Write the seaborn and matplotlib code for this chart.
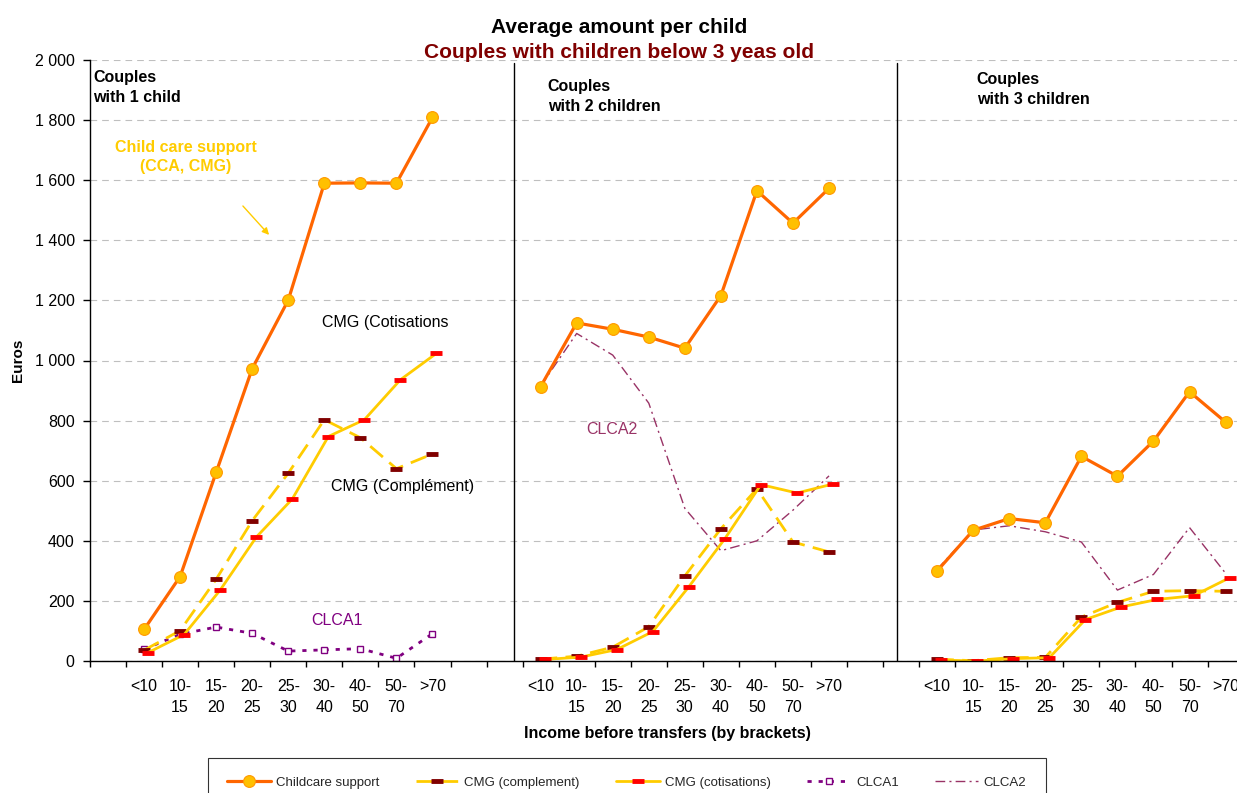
import numpy as np
import pandas as pd
import matplotlib
matplotlib.use("Agg")
import matplotlib.pyplot as plt
from matplotlib.lines import Line2D
from matplotlib.transforms import ScaledTranslation
from matplotlib.ticker import FuncFormatter
import seaborn as sns

# ---- data -------------------------------------------------------------
brackets = ["<10", "10-\n15", "15-\n20", "20-\n25", "25-\n30",
            "30-\n40", "40-\n50", "50-\n70", ">70"]
group_labels = ["Couples\nwith 1 child", "Couples\nwith 2 children",
                "Couples\nwith 3 children"]
# first category slot of each panel on the shared axis, and total slots
group_first_slot = [1, 12, 23]
n_slots = 32

childcare_1 = [105, 281, 628, 973, 1201, 1590, 1591, 1590, 1809]
childcare_2 = [913, 1125, 1104, 1078, 1041, 1216, 1565, 1457, 1573]
childcare_3 = [300, 435, 474, 460, 681, 615, 732, 896, 795]

cmg_complement_1 = [36, 101, 272, 467, 625, 803, 743, 640, 689]
cmg_complement_2 = [6, 16, 46, 114, 283, 440, 573, 396, 363]
cmg_complement_3 = [6, 1, 11, 12, 146, 195, 232, 234, 232]

cmg_cotisations_1 = [28, 88, 236, 412, 539, 747, 803, 936, 1024]
cmg_cotisations_2 = [5, 13, 38, 98, 247, 407, 587, 559, 589]
cmg_cotisations_3 = [3, 0, 8, 11, 138, 180, 205, 217, 277]

clca1_1 = [39, 89, 113, 92, 33, 37, 41, 9, 91]

clca2_2 = [915, 1090, 1018, 858, 508, 367, 400, 502, 616]
clca2_3 = [305, 436, 450, 430, 396, 236, 288, 444, 292]

series_values = {
    "Childcare support": {0: childcare_1, 1: childcare_2, 2: childcare_3},
    "CMG (complement)": {0: cmg_complement_1, 1: cmg_complement_2, 2: cmg_complement_3},
    "CMG (cotisations)": {0: cmg_cotisations_1, 1: cmg_cotisations_2, 2: cmg_cotisations_3},
    "CLCA1": {0: clca1_1},
    "CLCA2": {1: clca2_2, 2: clca2_3},
}

rows = []
for name, per_group in series_values.items():
    for g, vals in per_group.items():
        for k, v in enumerate(vals):
            rows.append({"series": name, "group": g,
                         "slot": group_first_slot[g] + k + 0.5, "value": v})
df = pd.DataFrame(rows)

# ---- styles -----------------------------------------------------------
GOLD = "#FFCC00"
styles = {
    "Childcare support": dict(color="#FF6600", lw=2.3, ls="-", marker="o", ms=8.5,
                              mfc="#FFC000", mec="#FF9900", mew=0.8),
    "CMG (complement)": dict(color=GOLD, lw=2.0, ls=(0, (6, 3)), marker="_", ms=9,
                             mew=3.5, mec="#800000"),
    "CMG (cotisations)": dict(color=GOLD, lw=2.0, ls="-", marker="_", ms=9,
                              mew=3.5, mec="#FF0000"),
    "CLCA1": dict(color="#800080", lw=2.0, ls=(0, (1.5, 2.5)), marker="s", ms=4,
                  mfc="white", mec="#800080", mew=1.0),
    "CLCA2": dict(color="#993366", lw=1.0, ls=(0, (7, 3, 1.5, 3))),
}

sns.set_theme(style="white")
plt.rcParams["font.family"] = ["Liberation Sans", "DejaVu Sans"]

W, H = 1237, 793
fig = plt.figure(figsize=(W / 100, H / 100), dpi=100)
ax = fig.add_axes([90 / W, 132 / H, 36.05 * n_slots / W, 601 / H])

draw_order = ["CLCA2", "CLCA1", "CMG (complement)", "CMG (cotisations)", "Childcare support"]
shift = ScaledTranslation(4 / 100, 0, fig.dpi_scale_trans)
for name in draw_order:
    sub = df[df["series"] == name]
    n_before = len(ax.lines)
    sns.lineplot(data=sub, x="slot", y="value", units="group", estimator=None,
                 sort=False, legend=False, ax=ax, **styles[name])
    if name == "CMG (cotisations)":
        for ln in ax.lines[n_before:]:
            ln.set_transform(ax.transData + shift)

# ---- axes -------------------------------------------------------------
ax.set_xlim(0, n_slots)
ax.set_ylim(0, 2000)
ax.set_xlabel("")
ax.set_ylabel("")
ax.set_yticks(np.arange(0, 2001, 200))
ax.yaxis.set_major_formatter(FuncFormatter(lambda v, p: f"{int(v):,}".replace(",", " ")))
ax.set_xticks(np.arange(0, n_slots + 1))
ax.set_xticklabels([])
centers, labels = [], []
for start in group_first_slot:
    for k, b in enumerate(brackets):
        centers.append(start + k + 0.5)
        labels.append(b)
ax.set_xticks(centers, minor=True)
ax.set_xticklabels(labels, minor=True)
for lbl in ax.get_xticklabels(minor=True):
    lbl.set_linespacing(1.5)

ax.tick_params(axis="x", which="major", direction="out", length=4, width=1,
               color="black", bottom=True)
ax.tick_params(axis="x", which="minor", length=0, pad=13, labelsize=11.5,
               labelcolor="black")
ax.tick_params(axis="y", direction="out", length=5, width=1, color="black",
               left=True, pad=6, labelsize=11.5, labelcolor="black")

for side in ["top", "right"]:
    ax.spines[side].set_visible(False)
for side in ["left", "bottom"]:
    ax.spines[side].set_color("black")
    ax.spines[side].set_linewidth(1.0)

ax.yaxis.grid(True, color="#BFBFBF", lw=0.8, ls=(0, (6, 4.5)))
ax.xaxis.grid(False)
ax.set_axisbelow(True)

# panel separators
for xsep in [11.77, 22.38]:
    ax.axvline(xsep, ymin=0, ymax=0.995, color="black", lw=1.0)

# ---- annotations ------------------------------------------------------
panel_label_pos = [(0.083, 1967), (12.70, 1937), (24.6, 1961)]
for (px, py), txt in zip(panel_label_pos, group_labels):
    ax.text(px, py, txt, ha="left", va="top", fontsize=11.5, fontweight="bold",
            color="black", linespacing=1.4)

ax.text(2.65, 1677, "Child care support\n(CCA, CMG)", ha="center", va="center",
        fontsize=11.5, fontweight="bold", color=GOLD, linespacing=1.4,
        multialignment="center")
ax.annotate("", xy=(5.02, 1411), xytext=(4.19, 1521),
            arrowprops=dict(arrowstyle="-|>", color=GOLD, lw=1.0, mutation_scale=10))
ax.text(6.44, 1126, "CMG (Cotisations", ha="left", va="center", fontsize=11.5,
        color="black")
ax.text(6.68, 580, "CMG (Complément)", ha="left", va="center", fontsize=11.5,
        color="black")
ax.text(6.15, 134, "CLCA1", ha="left", va="center", fontsize=11.5, color="#800080")
ax.text(13.76, 771, "CLCA2", ha="left", va="center", fontsize=11.5, color="#993366")

# ---- titles and axis names -------------------------------------------
fig.text(619 / W, 1 - 33 / H, "Average amount per child", ha="center",
         va="baseline", fontsize=15, fontweight="bold", color="black")
fig.text(619 / W, 1 - 58 / H, "Couples with children below 3 yeas old", ha="center",
         va="baseline", fontsize=15, fontweight="bold", color="#800000")
fig.text(18 / W, 1 - 360 / H, "Euros", rotation=90, ha="center", va="center",
         fontsize=11, fontweight="bold", color="black")
fig.text(667 / W, 1 - 738 / H, "Income before transfers (by brackets)", ha="center",
         va="baseline", fontsize=11.5, fontweight="bold", color="black")

# ---- legend -----------------------------------------------------------
legend_order = ["Childcare support", "CMG (complement)", "CMG (cotisations)",
                "CLCA1", "CLCA2"]
handles = [Line2D([], [], **styles[n]) for n in legend_order]
leg = fig.legend(handles, legend_order, loc="upper left",
                 bbox_to_anchor=(208 / W, 1 - 757.7 / H), ncol=5, frameon=True,
                 fancybox=False, shadow=False, fontsize=9.5, handlelength=3.3,
                 handletextpad=0.4, columnspacing=2.75, borderpad=1.45,
                 borderaxespad=0)
leg.get_frame().set_edgecolor("black")
leg.get_frame().set_linewidth(0.8)
leg.get_frame().set_facecolor("white")

fig.savefig("out.png", dpi=100)
